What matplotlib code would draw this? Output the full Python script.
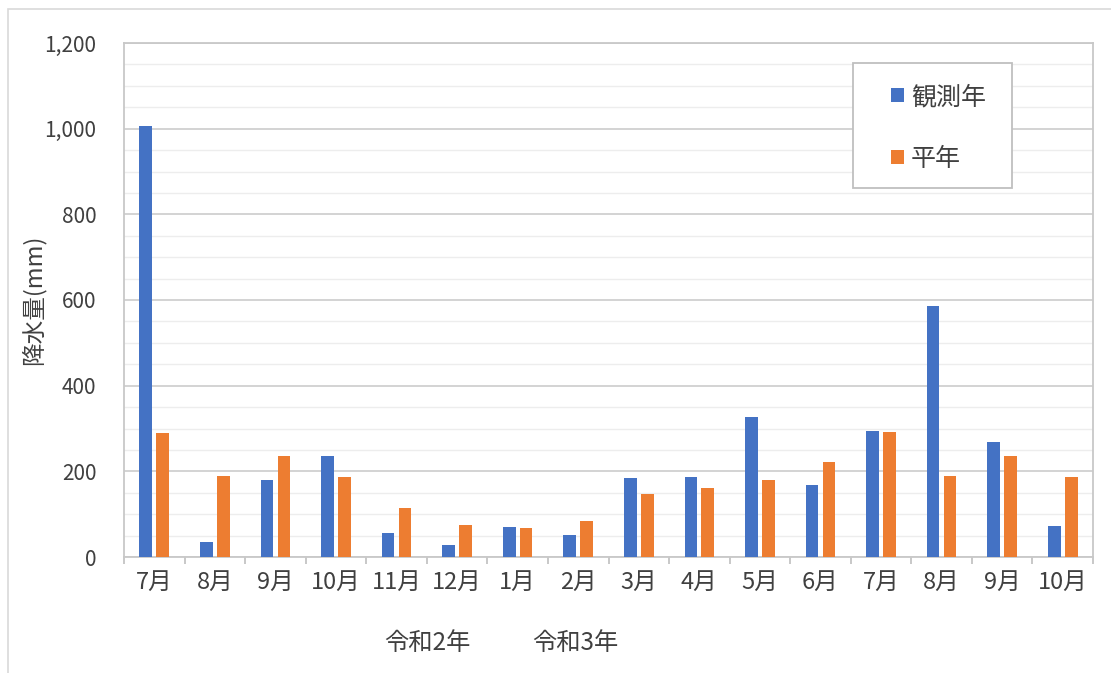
import matplotlib
matplotlib.use("Agg")
import numpy as np
import matplotlib.pyplot as plt
from matplotlib.patches import Rectangle
from matplotlib.ticker import FuncFormatter, MultipleLocator

plt.rcParams['font.family'] = ['Noto Sans CJK JP', 'DejaVu Sans']

# ------------------------
# DATA
# ------------------------
months = ['7月', '8月', '9月', '10月', '11月', '12月', '1月', '2月',
          '3月', '4月', '5月', '6月', '7月', '8月', '9月', '10月']
observed = [1006, 34, 180, 235, 55, 28, 70, 52,
            184, 187, 328, 169, 294, 585, 268, 73]
normal = [290, 190, 235, 187, 115, 75, 67, 85,
          148, 160, 180, 222, 292, 190, 235, 187]
series_names = ['観測年', '平年']
year_labels = ['令和2年', '令和3年']

BLUE = '#4472C4'
ORANGE = '#ED7D31'
TEXT = '#404040'

W, H = 1111, 673
fig = plt.figure(figsize=(W / 100, H / 100), dpi=100)

# outer chart border (Excel chart area)
fig.patches.append(Rectangle((8 / W, -0.1), 1.2, 1 - 9 / H + 0.1,
                             transform=fig.transFigure, fill=False,
                             edgecolor='#D9D9D9', linewidth=1.2))

ax = fig.add_axes([124 / W, 1 - 557 / H, (1093 - 124) / W, (557 - 43) / H])

x = np.arange(len(months))
bw = 0.21
off = 0.14
b1 = ax.bar(x - off, observed, bw, color=BLUE, label=series_names[0], zorder=3)
b2 = ax.bar(x + off, normal, bw, color=ORANGE, label=series_names[1], zorder=3)

ax.set_xlim(-0.5, len(months) - 0.5)
ax.set_ylim(0, 1200)

# y axis: major every 200, light minor grid every 50
ax.yaxis.set_major_locator(MultipleLocator(200))
ax.yaxis.set_minor_locator(MultipleLocator(50))
ax.yaxis.set_major_formatter(FuncFormatter(lambda v, p: f'{int(v):,}'))
ax.grid(axis='y', which='major', color='#D0D0D0', linewidth=1.3, zorder=0)
ax.grid(axis='y', which='minor', color='#EDEDED', linewidth=1.0, zorder=0)
ax.tick_params(axis='y', which='both', length=0, pad=20, labelsize=15,
               labelcolor=TEXT)

# x axis: labels at centres, small tick marks at category boundaries
ax.set_xticks(x)
ax.set_xticklabels(months)
ax.set_xticks(np.arange(len(months) + 1) - 0.5, minor=True)
ax.tick_params(axis='x', which='major', length=0, pad=10, labelsize=17,
               labelcolor=TEXT)
ax.tick_params(axis='x', which='minor', length=5, width=1.2, color='#BFBFBF')

for s in ax.spines.values():
    s.set_color('#C8C8C8')
    s.set_linewidth(1.3)

ax.set_ylabel('降水量(mm)', fontsize=17, color=TEXT, va='center')
ax.yaxis.set_label_coords(-(124 - 33) / (1093 - 124), 0.5)

# year captions under the month labels
fig.text(427 / W, 1 - 643 / H, year_labels[0], ha='center', va='center',
         fontsize=17.5, color=TEXT)
fig.text(575 / W, 1 - 643 / H, year_labels[1], ha='center', va='center',
         fontsize=17.5, color=TEXT)

# legend box drawn separately so its padding can match the reference
ax.add_patch(Rectangle((853 / W, 1 - 188 / H), 159 / W, 125 / H,
                       transform=fig.transFigure, facecolor='white',
                       edgecolor='#BFBFBF', linewidth=1.3, zorder=4))
leg = ax.legend(handles=[b1, b2], loc='upper left',
                bbox_to_anchor=(891 / W, 1 - 84 / H),
                bbox_transform=fig.transFigure, frameon=False,
                fontsize=18, handlelength=0.5, handleheight=0.5,
                handletextpad=0.3, labelspacing=1.43, borderpad=0,
                borderaxespad=0)
leg.set_zorder(5)
for t in leg.get_texts():
    t.set_color(TEXT)

fig.savefig('out.png', dpi=100)
